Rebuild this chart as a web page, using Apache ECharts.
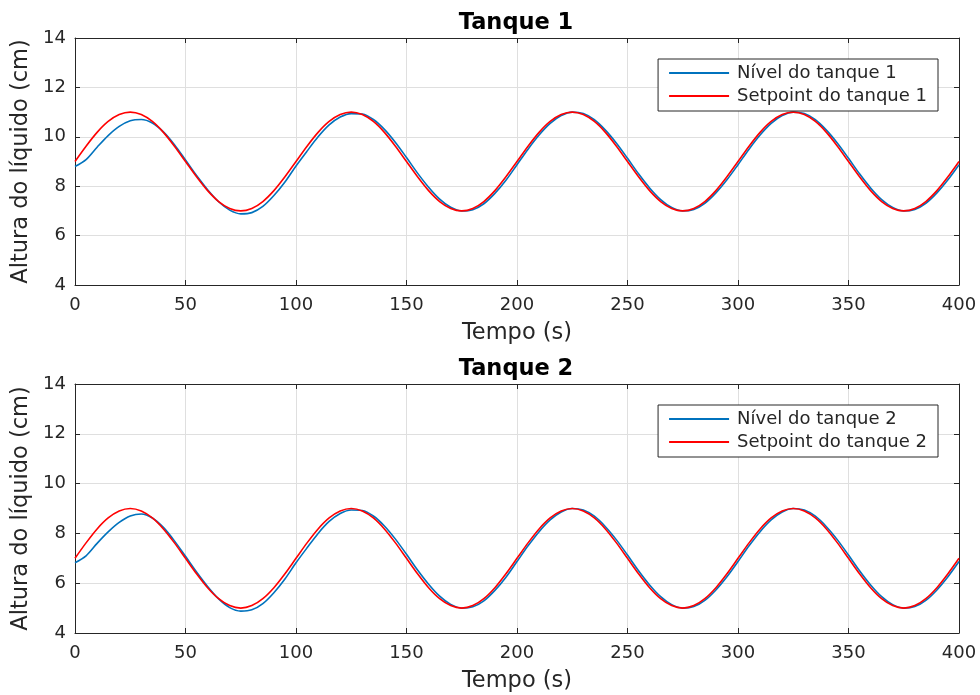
<!DOCTYPE html>
<html>
<head>
<meta charset="utf-8">
<script src="https://cdn.jsdelivr.net/npm/echarts@6/dist/echarts.min.js"></script>
<style>
  html, body { margin: 0; padding: 0; background: #fff; }
  #chart { width: 980px; height: 695px; }
</style>
</head>
<body>
<div id="chart"></div>
<script>
// tempo (s), amostras a cada 5 s
const tempo = [0,5,10,15,20,25,30,35,40,45,50,55,60,65,70,75,80,85,90,95,
  100,105,110,115,120,125,130,135,140,145,150,155,160,165,170,175,180,185,190,195,
  200,205,210,215,220,225,230,235,240,245,250,255,260,265,270,275,280,285,290,295,
  300,305,310,315,320,325,330,335,340,345,350,355,360,365,370,375,380,385,390,395,400];

const nivel1 = [8.80,9.08,9.58,10.05,10.42,10.65,10.70,10.56,10.20,9.68,9.06,8.43,7.86,7.37,7.03,6.88,6.93,7.18,7.62,8.17,
  8.82,9.42,10.00,10.48,10.80,10.94,10.92,10.70,10.30,9.77,9.16,8.53,7.96,7.48,7.15,7.00,7.05,7.29,7.71,8.24,
  8.87,9.50,10.07,10.54,10.86,11.00,10.94,10.69,10.27,9.74,9.13,8.50,7.93,7.46,7.14,7.00,7.06,7.31,7.73,8.26,
  8.87,9.50,10.07,10.54,10.86,11.00,10.94,10.69,10.27,9.74,9.13,8.50,7.93,7.46,7.14,7.00,7.06,7.31,7.73,8.26,8.87];

const setpoint1 = [9.00,9.62,10.18,10.62,10.90,11.00,10.90,10.62,10.18,9.62,9.00,8.38,7.82,7.38,7.10,7.00,7.10,7.38,7.82,8.38,
  9.00,9.62,10.18,10.62,10.90,11.00,10.90,10.62,10.18,9.62,9.00,8.38,7.82,7.38,7.10,7.00,7.10,7.38,7.82,8.38,
  9.00,9.62,10.18,10.62,10.90,11.00,10.90,10.62,10.18,9.62,9.00,8.38,7.82,7.38,7.10,7.00,7.10,7.38,7.82,8.38,
  9.00,9.62,10.18,10.62,10.90,11.00,10.90,10.62,10.18,9.62,9.00,8.38,7.82,7.38,7.10,7.00,7.10,7.38,7.82,8.38,9.00];

const nivel2 = [6.82,7.10,7.60,8.06,8.44,8.70,8.78,8.62,8.24,7.70,7.08,6.45,5.87,5.37,5.02,4.88,4.93,5.18,5.62,6.17,
  6.82,7.42,8.00,8.48,8.80,8.94,8.92,8.70,8.30,7.77,7.16,6.53,5.96,5.48,5.15,5.00,5.05,5.29,5.71,6.24,
  6.87,7.50,8.07,8.54,8.86,9.00,8.94,8.69,8.27,7.74,7.13,6.50,5.93,5.46,5.14,5.00,5.06,5.31,5.73,6.26,
  6.87,7.50,8.07,8.54,8.86,9.00,8.94,8.69,8.27,7.74,7.13,6.50,5.93,5.46,5.14,5.00,5.06,5.31,5.73,6.26,6.87];

const setpoint2 = [7.00,7.62,8.18,8.62,8.90,9.00,8.90,8.62,8.18,7.62,7.00,6.38,5.82,5.38,5.10,5.00,5.10,5.38,5.82,6.38,
  7.00,7.62,8.18,8.62,8.90,9.00,8.90,8.62,8.18,7.62,7.00,6.38,5.82,5.38,5.10,5.00,5.10,5.38,5.82,6.38,
  7.00,7.62,8.18,8.62,8.90,9.00,8.90,8.62,8.18,7.62,7.00,6.38,5.82,5.38,5.10,5.00,5.10,5.38,5.82,6.38,
  7.00,7.62,8.18,8.62,8.90,9.00,8.90,8.62,8.18,7.62,7.00,6.38,5.82,5.38,5.10,5.00,5.10,5.38,5.82,6.38,7.00];

const titulos = ['Tanque 1', 'Tanque 2'];
const nomesNivel = ['Nível do tanque 1', 'Nível do tanque 2'];
const nomesSetpoint = ['Setpoint do tanque 1', 'Setpoint do tanque 2'];

const fonte = '"DejaVu Sans", sans-serif';
const cinza = '#262626';

let chart = echarts.init(document.getElementById('chart'));

function pares(vals) {
  let out = [];
  for (let i = 0; i < tempo.length; i++) out.push([tempo[i], vals[i]]);
  return out;
}

const grids = [
  {left: 75, top: 38, width: 884, height: 247},
  {left: 75, top: 384, width: 884, height: 249}
];

let xAxes = [], yAxes = [], series = [], legends = [], titles = [];
grids.forEach(function (g, i) {
  // eixo principal (baixo / esquerda)
  xAxes.push({
    type: 'value', gridIndex: i, min: 0, max: 400, interval: 50,
    name: 'Tempo (s)', nameLocation: 'middle', nameGap: 37,
    nameTextStyle: {color: cinza, fontSize: 22.5, fontFamily: fonte},
    axisLine: {show: true, lineStyle: {color: cinza}},
    axisTick: {show: true, inside: true, length: 5, lineStyle: {color: cinza}},
    axisLabel: {color: cinza, fontSize: 18, fontFamily: fonte, margin: 11},
    splitLine: {show: true, lineStyle: {color: '#dfdfdf'}}
  });
  // caixa: topo
  xAxes.push({
    type: 'value', gridIndex: i, min: 0, max: 400, interval: 50, position: 'top',
    axisLine: {show: true, onZero: false, lineStyle: {color: cinza}},
    axisTick: {show: true, inside: true, length: 5, lineStyle: {color: cinza}},
    axisLabel: {show: false}, splitLine: {show: false}
  });
  yAxes.push({
    type: 'value', gridIndex: i, min: 4, max: 14, interval: 2,
    name: 'Altura do líquido (cm)', nameLocation: 'middle', nameGap: 40,
    nameTextStyle: {color: cinza, fontSize: 22.5, fontFamily: fonte},
    axisLine: {show: true, lineStyle: {color: cinza}},
    axisTick: {show: true, inside: true, length: 5, lineStyle: {color: cinza}},
    axisLabel: {color: cinza, fontSize: 18, fontFamily: fonte, margin: 9},
    splitLine: {show: true, lineStyle: {color: '#dfdfdf'}}
  });
  yAxes.push({
    type: 'value', gridIndex: i, min: 4, max: 14, interval: 2, position: 'right',
    axisLine: {show: true, onZero: false, lineStyle: {color: cinza}},
    axisTick: {show: true, inside: true, length: 5, lineStyle: {color: cinza}},
    axisLabel: {show: false}, splitLine: {show: false}
  });

  const niv = i === 0 ? nivel1 : nivel2;
  const sp = i === 0 ? setpoint1 : setpoint2;
  series.push({
    name: nomesNivel[i], type: 'line', xAxisIndex: i * 2, yAxisIndex: i * 2,
    data: pares(niv), showSymbol: false, smooth: 0.3,
    lineStyle: {color: '#0072BD', width: 1.6}, itemStyle: {color: '#0072BD'}
  });
  series.push({
    name: nomesSetpoint[i], type: 'line', xAxisIndex: i * 2, yAxisIndex: i * 2,
    data: pares(sp), showSymbol: false, smooth: 0.3,
    lineStyle: {color: '#FF0000', width: 1.6}, itemStyle: {color: '#FF0000'}
  });

  legends.push({
    data: [nomesNivel[i], nomesSetpoint[i]],
    orient: 'vertical', right: 42, top: g.top + 21,
    backgroundColor: '#fff', borderColor: cinza, borderWidth: 1,
    padding: [5, 11, 6, 11], itemGap: 5,
    icon: 'rect', itemWidth: 60, itemHeight: 2,
    textStyle: {color: cinza, fontSize: 18, fontFamily: fonte, padding: [0, 0, 0, 3]}
  });

  titles.push({
    text: titulos[i], left: 511, textAlign: 'center', top: g.top - 31,
    textStyle: {color: '#000', fontSize: 22.5, fontWeight: 'bold', fontFamily: fonte}
  });
});

let option = {
  backgroundColor: '#fff',
  animation: false,
  title: titles,
  legend: legends,
  grid: grids,
  xAxis: xAxes,
  yAxis: yAxes,
  series: series
};
chart.setOption(option);
</script>
</body>
</html>
